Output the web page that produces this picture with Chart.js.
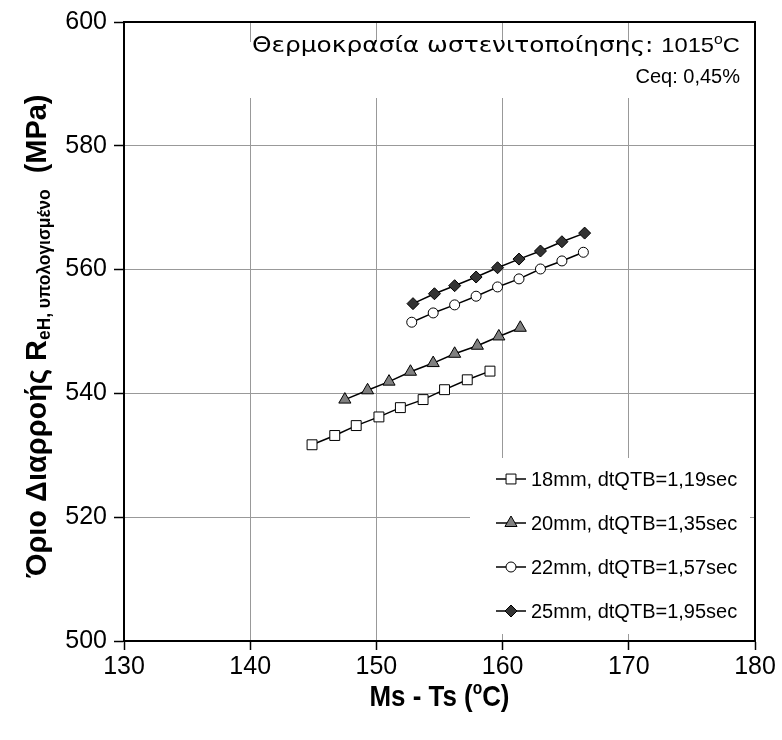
<!DOCTYPE html>
<html>
<head>
<meta charset="utf-8">
<script src="https://cdn.jsdelivr.net/npm/chart.js@4.4.1/dist/chart.umd.min.js"></script>
<style>
  html, body { margin: 0; padding: 0; background: #fff; }
  #wrap { width: 782px; height: 740px; }
</style>
</head>
<body>
<div id="wrap"><canvas id="grafico" width="782" height="740"></canvas></div>
<script>
// dados
var xs18 = [144.9, 146.7, 148.4, 150.2, 151.9, 153.7, 155.4, 157.2, 159.0];
var ys18 = [531.7, 533.2, 534.8, 536.2, 537.7, 539.0, 540.6, 542.2, 543.6];
var xs20 = [147.5, 149.3, 151.0, 152.7, 154.5, 156.2, 158.0, 159.7, 161.4];
var ys20 = [539.0, 540.5, 541.9, 543.5, 544.9, 546.4, 547.7, 549.2, 550.6];
var xs22 = [152.8, 154.5, 156.2, 157.9, 159.6, 161.3, 163.0, 164.7, 166.4];
var ys22 = [551.5, 553.0, 554.3, 555.7, 557.2, 558.5, 560.1, 561.4, 562.8];
var xs25 = [152.9, 154.6, 156.2, 157.9, 159.6, 161.3, 163.0, 164.7, 166.5];
var ys25 = [554.5, 556.1, 557.4, 558.8, 560.3, 561.7, 563.0, 564.5, 565.9];

var legendas = [
	"18mm, dtQTB=1,19sec",
	"20mm, dtQTB=1,35sec",
	"22mm, dtQTB=1,57sec",
	"25mm, dtQTB=1,95sec",
];
var xTicks = [130, 140, 150, 160, 170, 180];
var yTicks = [500, 520, 540, 560, 580, 600];

var fonteBase = "'Liberation Sans', Arial, sans-serif";
var fonteGrega = "'DejaVu Sans', 'Liberation Sans', sans-serif";

function pares(xs, ys) {
	var out = [];
	for (var i = 0; i < xs.length; i++) {
		out.push({ x: xs[i], y: ys[i] });
	}
	return out;
}

var estilos = [
	{ ponto: "rect", raio: 7, fundo: "#ffffff" },
	{ ponto: "triangle", raio: 7, fundo: "#808080" },
	{ ponto: "circle", raio: 5, fundo: "#ffffff" },
	{ ponto: "rectRot", raio: 6, fundo: "#333333" },
];
var series = [pares(xs18, ys18), pares(xs20, ys20), pares(xs22, ys22), pares(xs25, ys25)];

var datasets = series.map(function (dados, i) {
	return {
		label: legendas[i],
		data: dados,
		showLine: true,
		borderColor: "#000",
		borderWidth: 1.5,
		pointStyle: estilos[i].ponto,
		pointRadius: estilos[i].raio,
		pointBackgroundColor: estilos[i].fundo,
		pointBorderColor: "#000",
		pointBorderWidth: 1,
	};
});

// escreve pedacos de texto em sequencia, encolhendo/esticando ate a largura alvo
function desenharPecas(ctx, pecas, cx, base, alvo) {
	var total = 0;
	pecas.forEach(function (p) {
		ctx.font = p.f;
		p.w = ctx.measureText(p.t).width;
		total += p.w;
	});
	var esc = alvo ? alvo / total : 1;
	var x = cx - (total * esc) / 2;
	pecas.forEach(function (p) {
		ctx.save();
		ctx.font = p.f;
		ctx.translate(x, base + p.dy);
		ctx.scale(esc, 1);
		ctx.fillText(p.t, 0, 0);
		ctx.restore();
		x += p.w * esc;
	});
}

// desenha a caixa de legenda, o texto e os titulos dos eixos
var extras = {
	id: "extras",
	beforeDatasetsDraw: function (chart) {
		var ctx = chart.ctx;
		var area = chart.chartArea;
		ctx.save();
		ctx.fillStyle = "#fff";
		// fundo branco do texto e da legenda
		ctx.fillRect(245, 42, area.right - 245 - 3, 56);
		ctx.fillRect(470, 458, area.right - 470 - 5, 176);
		ctx.restore();
	},
	afterDraw: function (chart) {
		var ctx = chart.ctx;
		var area = chart.chartArea;
		ctx.save();

		// moldura
		ctx.strokeStyle = "#000";
		ctx.lineWidth = 2;
		ctx.strokeRect(area.left, area.top, area.right - area.left, area.bottom - area.top);

		// texto no canto
		ctx.fillStyle = "#000";
		ctx.textBaseline = "alphabetic";
		ctx.textAlign = "left";
		var linha1 = [
			{ t: "Θερμοκρασία ωστενιτοποίησης: ", f: "22px " + fonteGrega, dy: 0 },
			{ t: "1015", f: "21px " + fonteBase, dy: 0 },
			{ t: "o", f: "14px " + fonteBase, dy: -8 },
			{ t: "C", f: "21px " + fonteBase, dy: 0 },
		];
		desenharPecas(ctx, linha1, (252 + 740) / 2, 52, 488);
		ctx.font = "20px " + fonteBase;
		ctx.textAlign = "right";
		ctx.fillText("Ceq: 0,45%", 740, 83);

		// legenda
		var ys = [479, 523, 567, 611];
		for (var i = 0; i < legendas.length; i++) {
			var yy = ys[i];
			ctx.strokeStyle = "#000";
			ctx.lineWidth = 1.5;
			ctx.beginPath();
			ctx.moveTo(496, yy);
			ctx.lineTo(526, yy);
			ctx.stroke();
			ctx.fillStyle = estilos[i].fundo;
			ctx.lineWidth = 1;
			Chart.helpers.drawPoint(ctx, { pointStyle: estilos[i].ponto, radius: estilos[i].raio, rotation: 0, borderWidth: 1 }, 511, yy);
			ctx.fillStyle = "#000";
			ctx.font = "20px " + fonteBase;
			ctx.textAlign = "left";
			ctx.textBaseline = "middle";
			ctx.fillText(legendas[i], 531, yy + 1);
		}

		// titulo eixo x
		ctx.textBaseline = "alphabetic";
		ctx.textAlign = "left";
		var pecasX = [
			{ t: "Ms - Ts (", f: "bold 30px " + fonteBase, dy: 0 },
			{ t: "o", f: "bold 18px " + fonteBase, dy: -12 },
			{ t: "C)", f: "bold 30px " + fonteBase, dy: 0 },
		];
		desenharPecas(ctx, pecasX, (area.left + area.right) / 2, 706, 140);

		// titulo eixo y
		ctx.translate(46, 336);
		ctx.rotate(-Math.PI / 2);
		var pecasY = [
			{ t: "Όριο Διαρροής R", f: "bold 30px " + fonteBase, dy: 0 },
			{ t: "eH, υπολογισμένο", f: "bold 18px " + fonteBase, dy: 4 },
			{ t: "  (MPa)", f: "bold 30px " + fonteBase, dy: 0 },
		];
		desenharPecas(ctx, pecasY, 0, 0, 483);
		ctx.restore();
	},
};

var grafico = new Chart(document.getElementById("grafico"), {
	type: "scatter",
	data: { datasets: datasets },
	options: {
		responsive: false,
		animation: false,
		layout: { padding: { top: 16, right: 27, left: 0, bottom: 0 } },
		plugins: {
			legend: { display: false },
			tooltip: { enabled: false },
		},
		scales: {
			x: {
				type: "linear",
				min: xTicks[0],
				max: xTicks[xTicks.length - 1],
				afterBuildTicks: function (scale) {
					scale.ticks = xTicks.map(function (v) { return { value: v }; });
				},
				afterFit: function (scale) { scale.height = 99; },
				ticks: {
					color: "#000",
					font: { size: 25, family: fonteBase },
					padding: 2,
					maxRotation: 0,
				},
				grid: { color: "#999", lineWidth: 1, tickLength: 9, tickColor: "#000", tickWidth: 1.5 },
				border: { color: "#000", width: 2 },
			},
			y: {
				type: "linear",
				min: yTicks[0],
				max: yTicks[yTicks.length - 1],
				afterBuildTicks: function (scale) {
					scale.ticks = yTicks.map(function (v) { return { value: v }; });
				},
				afterFit: function (scale) { scale.width = 124; },
				ticks: {
					color: "#000",
					font: { size: 25, family: fonteBase },
					padding: 7,
				},
				grid: { color: "#999", lineWidth: 1, tickLength: 10, tickColor: "#000", tickWidth: 1.5 },
				border: { color: "#000", width: 2 },
			},
		},
	},
	plugins: [extras],
});
</script>
</body>
</html>
